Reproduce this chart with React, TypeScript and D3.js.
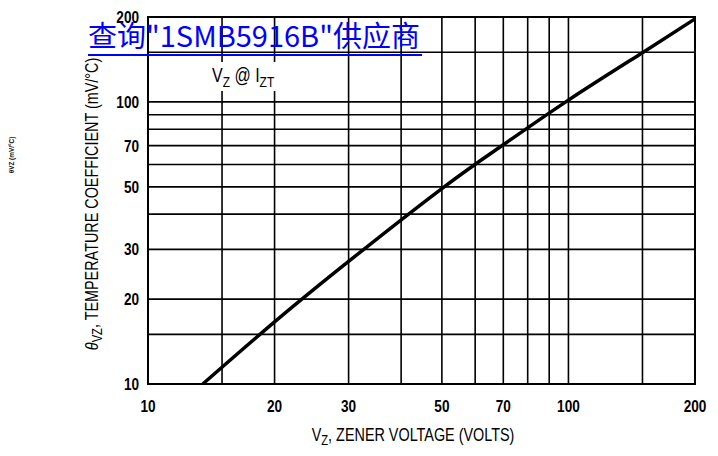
import React from "react";
import * as d3 from "d3";

const voltage = [13.5, 20, 30, 50, 70, 100, 150, 200];
const tempCoeff = [10, 16.6, 27.2, 49.3, 70.5, 101.5, 149.5, 197];

const xGrid = [15, 20, 30, 40, 50, 60, 70, 80, 90, 100, 150];
const yGrid = [15, 20, 30, 40, 50, 60, 70, 80, 90, 100, 150];
const xTickLabels = [10, 20, 30, 50, 70, 100, 200];
const yTickLabels = [10, 20, 30, 50, 70, 100, 200];

const W = 718;
const H = 456;
const left = 148, right = 695, top = 17, bottom = 384;
const FONT = "'Liberation Sans',Arial,sans-serif";
const SX = 0.8;

export default function App() {
  const x = d3.scaleLog().domain([10, 200]).range([left, right]);
  const y = d3.scaleLog().domain([10, 200]).range([bottom, top]);
  const pts: [number, number][] = voltage.map((v, i) => [v, tempCoeff[i]]);
  const line = d3
    .line<[number, number]>()
    .x((d) => x(d[0]))
    .y((d) => y(d[1]))
    .curve(d3.curveNatural);

  return (
    <svg
      width={W}
      height={H}
      style={{ position: "absolute", left: 0, top: 0, background: "#fff" }}
      fontFamily={FONT}
    >
      <rect x={0} y={0} width={W} height={H} fill="#fff" />
      {xGrid.map((v) => (
        <line key={"xg" + v} x1={x(v)} x2={x(v)} y1={top} y2={bottom} stroke="#000" strokeWidth={1.6} />
      ))}
      {yGrid.map((v) => (
        <line key={"yg" + v} x1={left} x2={right} y1={y(v)} y2={y(v)} stroke="#000" strokeWidth={1.6} />
      ))}
      <rect x={left} y={top} width={right - left} height={bottom - top} fill="none" stroke="#000" strokeWidth={2} />

      {/* annotation */}
      <rect x={209} y={62} width={78} height={29} fill="#fff" />
      <text transform={`translate(212,82) scale(${SX},1)`} fontSize={20} fill="#000">
        V<tspan fontSize={15} dy={5}>Z</tspan>
        <tspan dy={-5}> @ I</tspan>
        <tspan fontSize={15} dy={5}>ZT</tspan>
      </text>

      <path d={line(pts) || ""} fill="none" stroke="#000" strokeWidth={3.5} />

      {xTickLabels.map((v) => (
        <text
          key={"xl" + v}
          transform={`translate(${x(v)},412) scale(${SX},1)`}
          fontSize={17}
          fontWeight="bold"
          textAnchor="middle"
          fill="#000"
        >
          {v}
        </text>
      ))}
      {yTickLabels.map((v) => (
        <text
          key={"yl" + v}
          transform={`translate(139,${y(v) + 6}) scale(${SX},1)`}
          fontSize={17}
          fontWeight="bold"
          textAnchor="end"
          fill="#000"
        >
          {v}
        </text>
      ))}

      <text transform={`translate(413,441) scale(${SX},1)`} fontSize={18} textAnchor="middle" fill="#000">
        V<tspan fontSize={14} dy={4}>Z</tspan>
        <tspan dy={-4}>, ZENER VOLTAGE (VOLTS)</tspan>
      </text>

      <text transform={`translate(98,204) rotate(-90) scale(${SX},1)`} fontSize={18} textAnchor="middle" fill="#000">
        <tspan fontStyle="italic">θ</tspan>
        <tspan fontSize={14} dy={4}>VZ</tspan>
        <tspan dy={-4}>, TEMPERATURE COEFFICIENT (mV/°C)</tspan>
      </text>

      <text transform="translate(14,155) rotate(-90) scale(0.8,1)" fontSize={8} fontWeight="bold" textAnchor="middle" fill="#111">
        θVZ (mV/°C)
      </text>

      <text x={88} y={47} fontSize={29} fill="#0000ff" fontFamily="'Noto Sans CJK SC','Liberation Sans',sans-serif">
        查询"1SMB5916B"供应商
      </text>
      <line x1={88} x2={422} y1={55} y2={55} stroke="#0000ff" strokeWidth={2} />
    </svg>
  );
}
